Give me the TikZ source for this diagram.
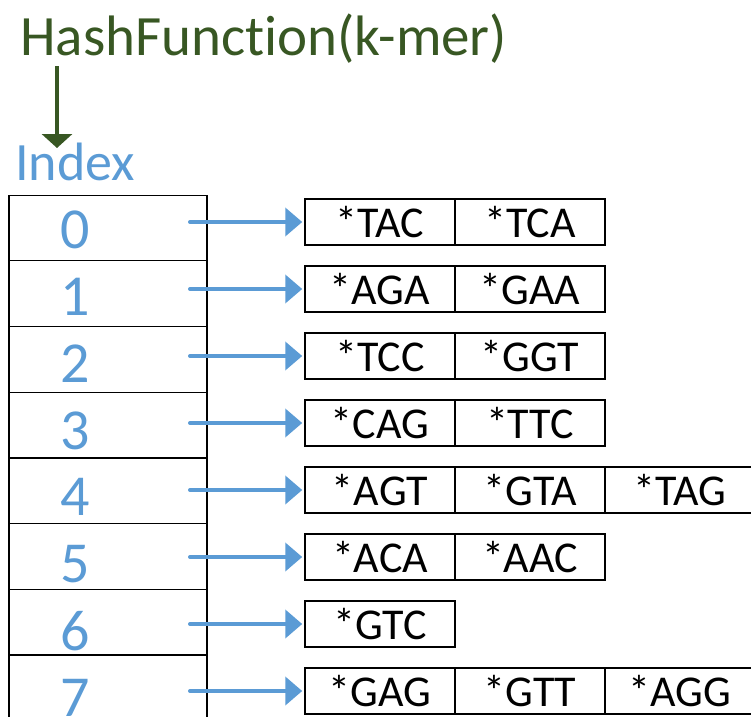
\documentclass[tikz,border=0pt]{standalone}
\usepackage{fontspec}
\setmainfont{Carlito}[Ligatures={NoCommon,NoContextual}]
\usetikzlibrary{arrows.meta,positioning}
\definecolor{hashgreen}{HTML}{385723}
\definecolor{idxblue}{HTML}{5B9BD5}
\tikzset{
	cell/.style={draw, line width=1.2pt, minimum width=198pt, minimum height=65.7pt, inner sep=0pt},
	digit/.style={text=idxblue, inner sep=0pt, font=\fontsize{58}{60}\selectfont},
	kmer/.style={draw, line width=1.5pt, minimum width=150pt, minimum height=46pt, inner sep=0pt, font=\fontsize{44}{48}\selectfont},
	link/.style={idxblue, line width=4pt, line cap=round, -{Triangle[length=17pt,width=28pt]}, shorten >=2pt},
	hasharrow/.style={hashgreen, line width=3.3pt, -{Triangle[length=14pt,width=30pt]}},
}
\begin{document}
\begin{tikzpicture}[x=1pt,y=-1pt]
	\useasboundingbox (0,0) rectangle (751,716);
	\clip (0,0) rectangle (751,716);
	\node[text=hashgreen, inner sep=0pt, anchor=base west, font=\fontsize{57}{60}\selectfont] (hash) at (20,55) {HashFunct\kern0pt ion(k-mer)};
	\node[text=idxblue, inner sep=0pt, anchor=base west, font=\fontsize{54}{58}\selectfont] (index) at (15,180) {Index};
	\coordinate (hf) at (57,66);
	\coordinate (ix) at (57,148);
	\draw [hasharrow] (hf) -- (ix);
	
	% index table
	\foreach \i in {0,...,7}{
		\node[cell] (c\i) at (108,{228+65.7*\i}) {};
		\node[digit] (d\i) at (75,{230+66.8*\i}) {\i};}
	
	% buckets
	\foreach \r/\ks in {0/{TAC,TCA},1/{AGA,GAA},2/{TCC,GGT},3/{CAG,TTC},4/{AGT,GTA,TAG},5/{ACA,AAC},6/{GTC},7/{GAG,GTT,AGG}}{
		\foreach \k [count=\j] in \ks
		\node[kmer] (k\r-\j) at ({380+150*(\j-1)},{222+67*\r}) {*\k};
		\coordinate (s\r) at (190,{222+67*\r});
		\draw [link] (s\r) -- (k\r-1.west);}
\end{tikzpicture}
\end{document}
